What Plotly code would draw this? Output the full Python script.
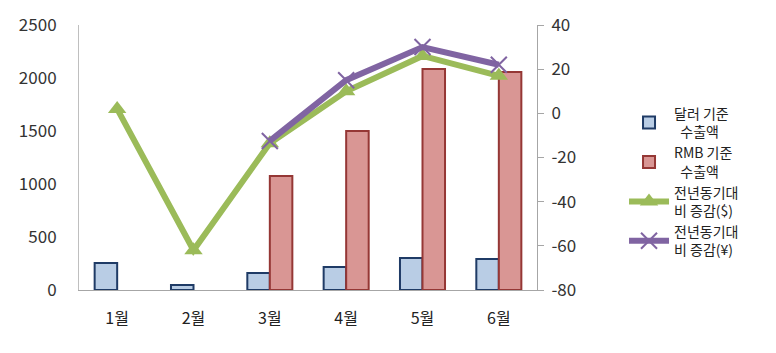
import plotly.graph_objects as go

months = ["1월", "2월", "3월", "4월", "5월", "6월"]
usd_export = [255, 47, 160, 217, 302, 292]
rmb_export = [None, None, 1075, 1500, 2085, 2057]
yoy_usd = [2, -62, -13.5, 10, 26, 17]
yoy_rmb = [None, None, -12.5, 15, 30, 22]

right_tickvals = [40, 20, 0, -20, -40, -60, -80]
right_ticktext = ["40", "20", "0", "-20", "-40", "-60", "-80"]

names = ["달러 기준<br>  수출액", "RMB 기준<br>  수출액", "전년동기대<br>비 증감($)", "전년동기대<br>비 증감(¥)"]

font = "Noto Sans CJK KR, Noto Sans, sans-serif"

fig = go.Figure()
fig.add_trace(go.Bar(x=months, y=usd_export, name=names[0], legendgroup="a",
                     marker=dict(color="#B9CDE5", line=dict(color="#1F3B66", width=2))))
fig.add_trace(go.Bar(x=months, y=rmb_export, name=names[1], legendgroup="b",
                     marker=dict(color="#D99694", line=dict(color="#953735", width=2))))
fig.add_trace(go.Scatter(x=months, y=yoy_usd, name=names[2], yaxis="y2", mode="lines+markers",
                         legendgroup="c",
                         line=dict(color="#9BBB59", width=6),
                         marker=dict(symbol="triangle-up", size=16, color="#9BBB59"),
                         cliponaxis=False))
fig.add_trace(go.Scatter(x=months, y=yoy_rmb, name=names[3], yaxis="y2", mode="lines+markers",
                         legendgroup="d",
                         line=dict(color="#8064A2", width=6),
                         marker=dict(symbol="x-thin", size=16, color="#8064A2",
                                     line=dict(color="#8064A2", width=2)),
                         cliponaxis=False))

fig.update_layout(
    width=776, height=353,
    margin=dict(l=79, r=239, t=25, b=63),
    paper_bgcolor="white", plot_bgcolor="white",
    barmode="group", bargap=0.41, bargroupgap=0,
    font=dict(family=font, size=16, color="#333333"),
    showlegend=True,
    legend=dict(x=1.19, y=0.725, xanchor="left", yanchor="top",
                font=dict(family=font, size=14, color="#222222"),
                tracegroupgap=27, traceorder="normal", itemwidth=40),
    xaxis=dict(showline=True, linecolor="#A6A6A6", linewidth=1, ticks="",
               showgrid=False, tickfont=dict(size=16, color="#222222"),
               ticklabelstandoff=14),
    yaxis=dict(range=[0, 2500], dtick=500, showgrid=False, zeroline=False,
               showline=True, linecolor="#BFBFBF", linewidth=1, ticks="",
               ticklabelstandoff=18, tickfont=dict(size=17)),
    yaxis2=dict(range=[-80, 40], tickvals=right_tickvals, ticktext=right_ticktext,
                overlaying="y", side="right",
                showgrid=False, zeroline=False, showline=True, linecolor="#A6A6A6",
                linewidth=1, ticks="outside", ticklen=6, tickcolor="#A6A6A6",
                tickfont=dict(size=17), ticklabelstandoff=4),
)

fig.write_html("out.html")
